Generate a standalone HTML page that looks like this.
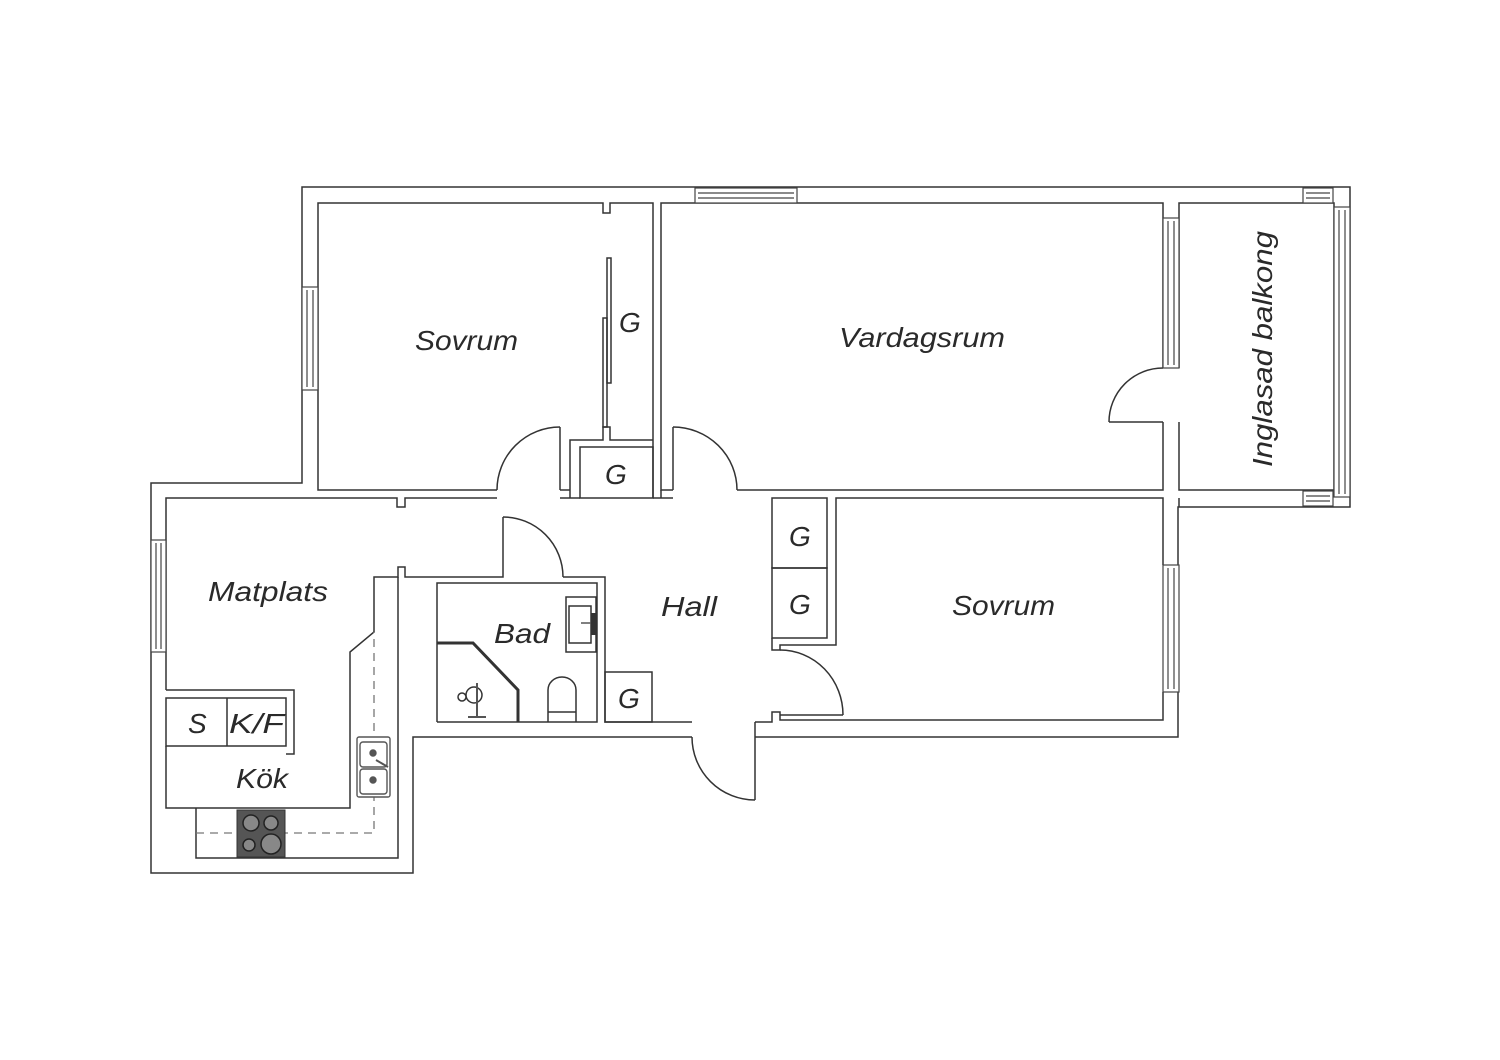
<!DOCTYPE html>
<html><head><meta charset="utf-8"><style>html,body{margin:0;padding:0;background:#fff}svg{display:block}</style></head>
<body>
<svg width="1500" height="1060" viewBox="0 0 1500 1060" xmlns="http://www.w3.org/2000/svg">
<rect width="1500" height="1060" fill="#fff"/>
<g fill="none" stroke="#333" stroke-width="1.5">
<!-- outer -->
<polyline points="692,737 413,737 413,873 151,873 151,483 302,483 302,187 1350,187 1350,507 1178,507 1178,737 755,737"/>
<!-- Sovrum1 -->
<polyline points="497,490 318,490 318,203 603,203 603,213 610,213 610,203 653,203 653,498"/>
<!-- closet in sovrum1 -->
<polyline points="570,498 570,440 603,440 603,427 610,427 610,440 653,440"/>
<rect x="580" y="447" width="73" height="51"/>
<line x1="560" y1="490" x2="560" y2="427"/><line x1="560" y1="490" x2="570" y2="490"/>
<line x1="560" y1="498" x2="580" y2="498"/>
<rect x="603" y="318" width="4" height="109"/><rect x="607" y="258" width="4" height="125"/>
<path d="M560,427 A63,63 0 0 0 497,490"/>
<!-- Vardagsrum -->
<polyline points="673,490 661,490 661,203 1163,203 1163,368"/>
<line x1="661" y1="490" x2="661" y2="498"/><line x1="653" y1="498" x2="673" y2="498"/>
<polyline points="1163,422 1163,490 737,490"/>
<line x1="673" y1="490" x2="673" y2="427"/>
<path d="M673,427 A64,63 0 0 1 737,490"/>
<line x1="1109" y1="422" x2="1163" y2="422"/><path d="M1109,422 A54,54 0 0 1 1163,368"/>
<!-- balcony -->
<polyline points="1179,368 1179,203 1334,203 1334,490 1179,490 1179,422"/>
<!-- Matplats / kitchen -->
<polyline points="166,690 166,498 397,498 397,507 405,507 405,498 497,498"/>
<polyline points="166,690 294,690 294,754 286,754"/>
<rect x="166" y="698" width="120" height="48"/><line x1="227" y1="698" x2="227" y2="746"/>
<polyline points="166,746 166,808 350,808 350,652 374,632 374,577 398,577 398,567 405,567 405,577 503,577 503,517"/>
<polyline points="398,577 398,858 196,858 196,808"/>
<path d="M503,517 A60,60 0 0 1 563,577"/>
<polyline points="563,577 605,577 605,722 692,722"/>
<!-- bad -->
<polyline points="437,722 437,583 597,583 597,722 437,722"/>
<rect x="566" y="597" width="30" height="55"/><rect x="569" y="606" width="22" height="37"/>
<path d="M548,722 V690 a14,13 0 0 1 28,0 V722 M548,712 H576"/>
<circle cx="474" cy="695" r="8"/><circle cx="462" cy="697" r="4"/>
<rect x="605" y="672" width="47" height="50"/>
<!-- hall right -->
<rect x="772" y="498" width="55" height="70"/><rect x="772" y="568" width="55" height="70"/>
<polyline points="772,638 772,650 780,650 780,645 836,645 836,498 1163,498 1163,565"/>
<polyline points="1163,692 1163,720 780,720 780,712 772,712 772,722 755,722"/>
<line x1="780" y1="715" x2="843" y2="715"/><path d="M780,650 A63,65 0 0 1 843,715"/>
<line x1="755" y1="722" x2="755" y2="800"/><path d="M755,800 A63,63 0 0 1 692,737"/>
<line x1="1179" y1="498" x2="1179" y2="507"/>
</g>
<!-- windows -->
<g fill="#fff" stroke="#444" stroke-width="1.2">
<rect x="695" y="188" width="102" height="15"/><line x1="698" y1="193" x2="794" y2="193"/><line x1="698" y1="198" x2="794" y2="198"/>
<rect x="302" y="287" width="16" height="103"/><line x1="307" y1="290" x2="307" y2="387"/><line x1="313" y1="290" x2="313" y2="387"/>
<rect x="1163" y="218" width="16" height="150"/><line x1="1168" y1="221" x2="1168" y2="365"/><line x1="1174" y1="221" x2="1174" y2="365"/>
<rect x="1163" y="565" width="16" height="127"/><line x1="1168" y1="568" x2="1168" y2="689"/><line x1="1174" y1="568" x2="1174" y2="689"/>
<rect x="151" y="540" width="15" height="112"/><line x1="156" y1="543" x2="156" y2="649"/><line x1="161" y1="543" x2="161" y2="649"/>
<rect x="1334" y="207" width="16" height="290"/><line x1="1339" y1="210" x2="1339" y2="494"/><line x1="1345" y1="210" x2="1345" y2="494"/>
<rect x="1303" y="188" width="30" height="15"/><line x1="1306" y1="193" x2="1330" y2="193"/><line x1="1306" y1="198" x2="1330" y2="198"/>
<rect x="1303" y="491" width="30" height="15"/><line x1="1306" y1="496" x2="1330" y2="496"/><line x1="1306" y1="501" x2="1330" y2="501"/>
</g>
<!-- shower wall -->
<polyline points="437,643 473,643 518,690 518,722" fill="none" stroke="#333" stroke-width="3"/>
<line x1="477" y1="683" x2="477" y2="718" stroke="#555" stroke-width="2"/>
<line x1="468" y1="717" x2="486" y2="717" stroke="#555" stroke-width="2"/>
<rect x="591" y="613" width="5" height="22" fill="#333"/><line x1="581" y1="623" x2="591" y2="623" stroke="#555" stroke-width="1.5"/>
<polyline points="196,833 374,833 374,632" fill="none" stroke="#777" stroke-width="1.3" stroke-dasharray="8,6"/>
<g stroke="#555" fill="#fff" stroke-width="1.4">
<rect x="357" y="737" width="33" height="60" rx="2"/>
<rect x="360" y="742" width="27" height="25" rx="3"/><rect x="360" y="769" width="27" height="25" rx="3"/>
<circle cx="373" cy="753" r="3" fill="#555"/><circle cx="373" cy="780" r="3" fill="#555"/>
<line x1="376" y1="760" x2="388" y2="767" stroke-width="2"/>
</g>
<rect x="237" y="810" width="48" height="47" fill="#555" stroke="#333"/>
<g stroke="#222" fill="#888" stroke-width="1.5">
<circle cx="251" cy="823" r="8"/><circle cx="271" cy="823" r="7"/><circle cx="249" cy="845" r="6"/><circle cx="271" cy="844" r="10"/>
</g>
<g font-family="Liberation Sans, sans-serif" font-style="italic" font-size="28" fill="#2a2a2a">
<text x="415" y="350" textLength="103" lengthAdjust="spacingAndGlyphs">Sovrum</text>
<text x="839" y="347" textLength="166" lengthAdjust="spacingAndGlyphs">Vardagsrum</text>
<text x="952" y="615" textLength="103" lengthAdjust="spacingAndGlyphs">Sovrum</text>
<text x="208" y="601" textLength="120" lengthAdjust="spacingAndGlyphs">Matplats</text>
<text x="661" y="616" textLength="56" lengthAdjust="spacingAndGlyphs">Hall</text>
<text x="494" y="643" textLength="56" lengthAdjust="spacingAndGlyphs">Bad</text>
<text x="236" y="788" textLength="52" lengthAdjust="spacingAndGlyphs">Kök</text>
<text x="188" y="733">S</text>
<text x="229" y="733" textLength="55" lengthAdjust="spacingAndGlyphs">K/F</text>
<text x="619" y="332">G</text>
<text x="605" y="484">G</text>
<text x="789" y="546">G</text>
<text x="789" y="614">G</text>
<text x="618" y="708">G</text>
<text transform="translate(1272,467) rotate(-90)" textLength="236" lengthAdjust="spacingAndGlyphs">Inglasad balkong</text>
</g>
</svg>
</body></html>
